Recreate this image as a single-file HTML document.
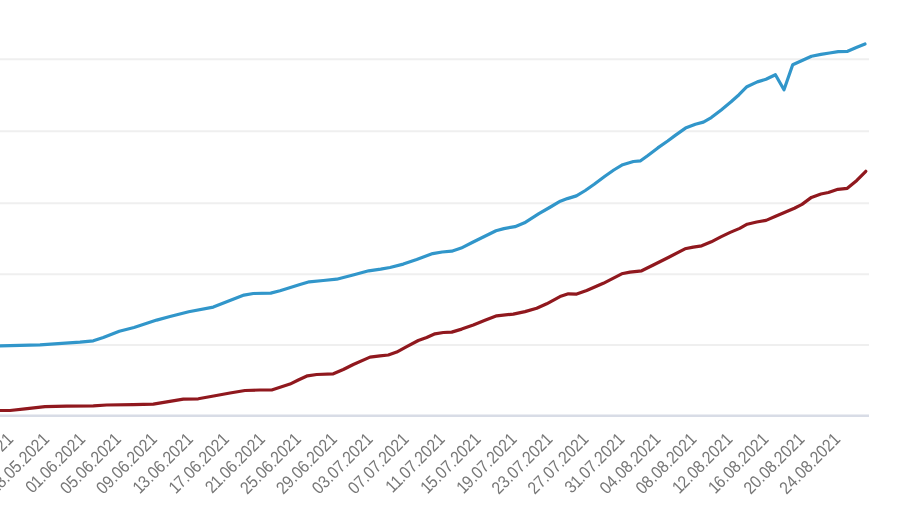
<!DOCTYPE html>
<html><head><meta charset="utf-8"><style>
html,body{margin:0;padding:0;background:#fff;width:900px;height:505px;overflow:hidden}
svg{display:block;filter:blur(0.35px)}
text{font-family:"Liberation Sans",sans-serif;font-size:16.5px;fill:#777777;text-anchor:end}
</style></head><body>
<svg width="900" height="505" viewBox="0 0 900 505">
<rect width="900" height="505" fill="#fff"/>
<line x1="0" y1="59.3" x2="869" y2="59.3" stroke="#efefef" stroke-width="2"/><line x1="0" y1="131.3" x2="869" y2="131.3" stroke="#efefef" stroke-width="2"/><line x1="0" y1="203.3" x2="869" y2="203.3" stroke="#efefef" stroke-width="2"/><line x1="0" y1="274.3" x2="869" y2="274.3" stroke="#efefef" stroke-width="2"/><line x1="0" y1="345" x2="869" y2="345" stroke="#efefef" stroke-width="2"/>
<line x1="0" y1="415.7" x2="869" y2="415.7" stroke="#d8dce6" stroke-width="2.4"/>
<polyline points="0.0,345.8 40.0,344.8 80.0,342.1 93.3,340.8 103.3,337.5 119.3,331.2 134.0,327.5 156.7,320.1 170.0,316.5 188.7,311.8 213.3,307.1 226.7,301.8 244.0,295.1 253.3,293.5 270.7,293.1 280.0,290.8 300.0,284.5 309.3,281.8 323.3,280.5 336.7,279.2 354.0,274.8 368.7,270.8 380.7,269.1 390.0,267.5 403.3,264.1 416.7,259.5 432.7,253.6 442.2,252.0 451.7,251.2 461.2,248.1 472.2,242.5 483.3,237.0 496.0,230.7 503.9,228.6 515.0,226.7 524.5,222.8 538.9,213.7 549.6,207.5 560.3,201.2 567.4,198.6 576.4,195.9 585.3,190.5 594.2,184.3 604.9,176.3 613.8,170.0 622.7,164.7 633.4,161.5 640.6,160.8 647.9,155.5 657.8,147.9 667.7,141.0 675.6,135.1 685.5,128.1 695.4,124.2 703.4,122.1 711.3,117.6 721.2,109.9 731.1,101.8 739.0,94.7 746.9,86.7 757.3,81.9 766.0,79.3 775.4,74.7 784.0,89.8 792.7,64.8 802.1,60.5 811.5,56.2 820.9,54.4 829.6,53.0 838.2,51.6 847.6,51.3 856.3,47.5 865.0,44.0" fill="none" stroke="#3196ca" stroke-width="3.2" stroke-linejoin="round" stroke-linecap="round"/>
<polyline points="0.0,410.5 10.0,410.5 25.0,408.8 45.0,406.6 66.7,406.1 93.3,405.8 106.7,405.0 133.3,404.6 153.3,404.1 168.3,401.6 183.3,399.1 198.3,398.8 215.0,395.8 230.0,393.0 245.0,390.5 260.0,390.0 271.7,390.0 290.0,384.1 298.3,380.0 307.5,375.8 316.7,374.5 333.3,373.8 343.3,369.5 353.3,364.5 370.0,357.1 380.0,355.8 388.3,355.0 396.7,352.1 406.7,346.6 418.3,340.5 426.7,337.5 435.0,333.8 443.3,332.5 451.7,332.1 461.7,329.1 473.3,325.0 485.0,320.3 496.7,315.8 513.3,314.1 525.0,311.6 536.7,308.3 546.7,303.8 560.0,296.6 568.3,293.8 576.7,294.1 586.7,290.5 603.3,283.3 621.7,273.8 630.0,272.1 641.7,270.8 653.3,265.0 668.3,257.5 685.0,248.8 693.3,247.1 701.7,245.8 711.3,241.8 720.8,236.9 730.2,232.4 739.7,228.4 747.2,224.2 756.7,222.0 766.1,220.4 775.6,216.3 785.0,212.3 794.4,208.2 802.0,204.4 811.4,197.4 820.9,194.0 828.4,192.5 837.9,189.3 847.3,188.3 856.8,180.4 865.8,171.3" fill="none" stroke="#90181e" stroke-width="3.2" stroke-linejoin="round" stroke-linecap="round"/>
<text transform="translate(14.3 440.2) rotate(-45) scale(0.94,1.06)">24.05.2021</text><text transform="translate(50.3 440.2) rotate(-45) scale(0.94,1.06)">28.05.2021</text><text transform="translate(86.3 440.2) rotate(-45) scale(0.94,1.06)">0<tspan dx="-0.75">1</tspan><tspan dx="-0.75">.</tspan>06.2021</text><text transform="translate(122.2 440.2) rotate(-45) scale(0.94,1.06)">05.06.2021</text><text transform="translate(158.2 440.2) rotate(-45) scale(0.94,1.06)">09.06.2021</text><text transform="translate(194.1 440.2) rotate(-45) scale(0.94,1.06)">1<tspan dx="-0.75">3</tspan>.06.2021</text><text transform="translate(230.1 440.2) rotate(-45) scale(0.94,1.06)">1<tspan dx="-0.75">7</tspan>.06.2021</text><text transform="translate(266.1 440.2) rotate(-45) scale(0.94,1.06)">2<tspan dx="-0.75">1</tspan><tspan dx="-0.75">.</tspan>06.2021</text><text transform="translate(302.0 440.2) rotate(-45) scale(0.94,1.06)">25.06.2021</text><text transform="translate(338.0 440.2) rotate(-45) scale(0.94,1.06)">29.06.2021</text><text transform="translate(373.9 440.2) rotate(-45) scale(0.94,1.06)">03.07.2021</text><text transform="translate(409.9 440.2) rotate(-45) scale(0.94,1.06)">07.07.2021</text><text transform="translate(445.9 440.2) rotate(-45) scale(0.94,1.06)">1<tspan dx="-1.5">1</tspan><tspan dx="-0.75">.</tspan>07.2021</text><text transform="translate(481.8 440.2) rotate(-45) scale(0.94,1.06)">1<tspan dx="-0.75">5</tspan>.07.2021</text><text transform="translate(517.8 440.2) rotate(-45) scale(0.94,1.06)">1<tspan dx="-0.75">9</tspan>.07.2021</text><text transform="translate(553.7 440.2) rotate(-45) scale(0.94,1.06)">23.07.2021</text><text transform="translate(589.7 440.2) rotate(-45) scale(0.94,1.06)">27.07.2021</text><text transform="translate(625.7 440.2) rotate(-45) scale(0.94,1.06)">3<tspan dx="-0.75">1</tspan><tspan dx="-0.75">.</tspan>07.2021</text><text transform="translate(661.6 440.2) rotate(-45) scale(0.94,1.06)">04.08.2021</text><text transform="translate(697.6 440.2) rotate(-45) scale(0.94,1.06)">08.08.2021</text><text transform="translate(733.5 440.2) rotate(-45) scale(0.94,1.06)">1<tspan dx="-0.75">2</tspan>.08.2021</text><text transform="translate(769.5 440.2) rotate(-45) scale(0.94,1.06)">1<tspan dx="-0.75">6</tspan>.08.2021</text><text transform="translate(805.5 440.2) rotate(-45) scale(0.94,1.06)">20.08.2021</text><text transform="translate(841.4 440.2) rotate(-45) scale(0.94,1.06)">24.08.2021</text>
</svg>
</body></html>
